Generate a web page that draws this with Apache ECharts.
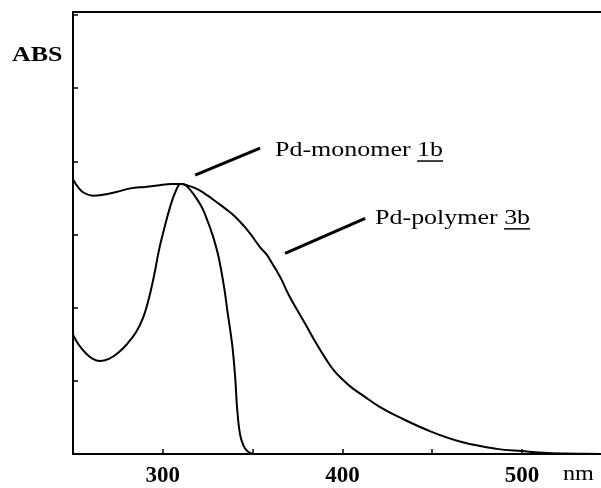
<!DOCTYPE html>
<html><head><meta charset="utf-8">
<script src="https://cdn.jsdelivr.net/npm/echarts@6/dist/echarts.min.js"></script>
<style>html,body{margin:0;padding:0;background:#fff}#c{width:601px;height:488px}</style>
</head><body><div id="c"></div>
<script>
// ---- data ----
const xTickLabels = ['300', '400', '500'];
const polymerNm  = [250, 253, 256, 261, 266, 274, 282, 290, 297, 305, 310, 315, 320, 325, 330, 335, 340, 345, 349, 354, 358, 361, 363, 366, 370, 375, 380, 385, 391, 395, 400, 405, 412, 421, 431, 449, 467, 486, 500, 514, 530, 544];
const polymerAbs = [3.75, 3.64, 3.57, 3.53, 3.54, 3.58, 3.63, 3.65, 3.67, 3.69, 3.69, 3.66, 3.61, 3.53, 3.44, 3.35, 3.25, 3.12, 3.00, 2.83, 2.72, 2.60, 2.52, 2.39, 2.18, 1.96, 1.75, 1.53, 1.29, 1.15, 1.02, 0.91, 0.79, 0.64, 0.51, 0.31, 0.16, 0.07, 0.04, 0.015, 0.005, 0];
const monomerNm  = [250, 253, 257, 261, 265, 270, 275, 280, 285, 289, 292, 295, 298, 301, 304, 307, 310, 313, 318, 322, 325, 328, 331, 334, 336, 338.6, 340.3, 341.4, 343, 345, 347, 350];
const monomerAbs = [1.63, 1.50, 1.38, 1.30, 1.27, 1.30, 1.38, 1.50, 1.66, 1.86, 2.10, 2.42, 2.80, 3.10, 3.37, 3.58, 3.69, 3.67, 3.52, 3.36, 3.18, 2.97, 2.70, 2.30, 1.95, 1.50, 1.05, 0.62, 0.27, 0.11, 0.04, 0];
const labelMonomer = ['Pd-monomer ', '1b'];
const labelPolymer = ['Pd-polymer ', '3b'];
const yName = 'ABS';
const xUnit = 'nm';
// annotation anchors (data coordinates)
const monoLeader = [[318, 3.81], [354.2, 4.18]];
const polyLeader = [[368.1, 2.74], [412.7, 3.22]];
const monoTextAt = [362.5, 4.147];
const polyTextAt = [418.2, 3.22];

// ---- chart ----
const SX = 1.18;
const FAM = '"Liberation Serif", "Times New Roman", serif';
const FONT = '22px ' + FAM;
const chart = echarts.init(document.getElementById('c'), null, {renderer: 'canvas'});
const pair = (xs, ys) => xs.map((x, i) => [x, ys[i]]);
const lineSeries = (name, xs, ys) => ({
  name, type: 'line', data: pair(xs, ys), showSymbol: false, symbol: 'none',
  smooth: 0.4,
  lineStyle: {color: '#000', width: 2}, silent: true, animation: false
});
const poly = lineSeries('Pd-polymer 3b', polymerNm, polymerAbs);
poly.markLine = {
  silent: true, symbol: ['none', 'none'], animation: false,
  lineStyle: {color: '#000', width: 3, type: 'solid'}, label: {show: false},
  data: [
    [{coord: monoLeader[0]}, {coord: monoLeader[1]}],
    [{coord: polyLeader[0]}, {coord: polyLeader[1]}]
  ]
};
const option = {
  backgroundColor: '#fff',
  animation: false,
  grid: {left: 73, right: 0, top: 12, bottom: 33},
  xAxis: [{
    type: 'value', min: 250, max: 544, interval: 50,
    axisLine: {show: true, onZero: false, lineStyle: {color: '#000', width: 2}},
    axisTick: {show: true, inside: true, length: 5, lineStyle: {color: '#000', width: 1.5}},
    axisLabel: {
      show: true, margin: 11, color: '#000', fontFamily: FAM, fontSize: 23, fontWeight: 'bold',
      showMaxLabel: false, showMinLabel: false,
      formatter: v => xTickLabels.includes(String(v)) ? String(v) : ''
    },
    splitLine: {show: false}
  }, {
    type: 'value', position: 'top', min: 250, max: 544,
    axisLine: {show: true, onZero: false, lineStyle: {color: '#000', width: 2}},
    axisTick: {show: false}, axisLabel: {show: false}, splitLine: {show: false}
  }],
  yAxis: {
    type: 'value', min: 0, max: 6.04, interval: 1,
    axisLine: {show: true, onZero: false, lineStyle: {color: '#000', width: 2}},
    axisTick: {show: true, inside: true, length: 5, lineStyle: {color: '#000', width: 1.5}},
    axisLabel: {show: false}, splitLine: {show: false}
  },
  series: [poly, lineSeries('Pd-monomer 1b', monomerNm, monomerAbs)]
};
chart.setOption(option);

const ctx = document.createElement('canvas').getContext('2d');
ctx.font = FONT;
const els = [];
[[labelMonomer, monoTextAt], [labelPolymer, polyTextAt]].forEach(([parts, at]) => {
  const p = chart.convertToPixel({gridIndex: 0}, at);
  const w0 = ctx.measureText(parts[0]).width * SX;
  const w1 = ctx.measureText(parts[1]).width * SX;
  els.push({type: 'text', x: p[0], y: p[1], scaleX: SX, silent: true,
    style: {text: parts[0], font: FONT, fill: '#000', align: 'left', verticalAlign: 'middle'}});
  els.push({type: 'text', x: p[0] + w0, y: p[1], scaleX: SX, silent: true,
    style: {text: parts[1], font: FONT, fill: '#000', align: 'left', verticalAlign: 'middle'}});
  els.push({type: 'line', silent: true,
    shape: {x1: p[0] + w0, y1: p[1] + 10.5, x2: p[0] + w0 + w1, y2: p[1] + 10.5},
    style: {stroke: '#000', lineWidth: 1.5}});
});
els.push({type: 'text', x: 12, y: 55, scaleX: SX, silent: true,
  style: {text: yName, font: 'bold ' + FONT, fill: '#000', align: 'left', verticalAlign: 'middle'}});
els.push({type: 'text', x: 563, y: 474, scaleX: 1.1, silent: true,
  style: {text: xUnit, font: FONT, fill: '#000', align: 'left', verticalAlign: 'middle'}});
chart.setOption({graphic: els});
</script>
</body></html>
